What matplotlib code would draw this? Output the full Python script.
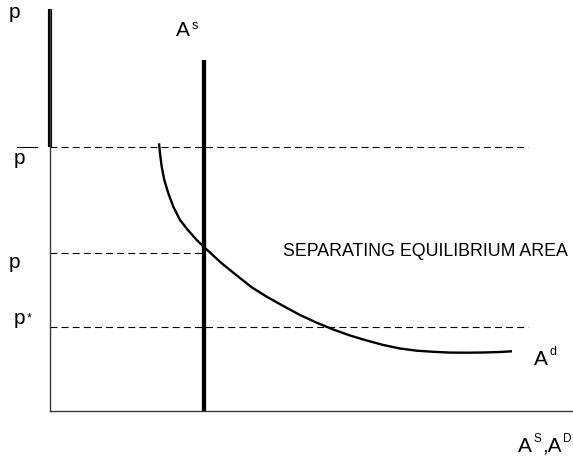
import matplotlib
matplotlib.use("Agg")
import matplotlib.pyplot as plt

plt.rcParams['font.family'] = ['Liberation Sans', 'DejaVu Sans']
plt.rcParams['lines.scale_dashes'] = False

# price levels
p_bar = 5.28
p_sep = 3.16
p_star = 1.68

# supply of A (vertical)
a_supply = 3.08
a_supply_top = 7.02
p_axis_top = 8.04
dash_end = 9.56

# demand curve A^d
ad_x = [2.18, 2.20, 2.234, 2.286, 2.366, 2.466, 2.60, 2.766, 2.934, 3.086,
        3.434, 3.766, 4.04, 4.334, 4.666, 5.00, 5.334, 5.666, 6.00, 6.334,
        6.666, 7.00, 7.334, 7.666, 8.00, 8.334, 8.666, 9.00, 9.24]
ad_y = [5.354, 5.154, 4.886, 4.62, 4.354, 4.086, 3.82, 3.61, 3.42, 3.274,
        2.954, 2.686, 2.47, 2.286, 2.10, 1.92, 1.766, 1.63, 1.51, 1.41,
        1.32, 1.25, 1.206, 1.184, 1.168, 1.166, 1.17, 1.18, 1.194]

fig = plt.figure(figsize=(5.73, 4.59), dpi=100)
ax = fig.add_axes([50 / 573, 48 / 459, 523 / 573, 411 / 459])
ax.set_xlim(0, 523 / 50)
ax.set_ylim(0, 411 / 50)
ax.set_xticks([])
ax.set_yticks([])
for s in ['top', 'right']:
    ax.spines[s].set_visible(False)
for s in ['left', 'bottom']:
    ax.spines[s].set_color('#3a3a3a')
    ax.spines[s].set_linewidth(1.0)
ax.spines['left'].set_bounds(0, p_axis_top)

dash = dict(color='black', lw=0.8, linestyle=(0, (5, 3)))
ax.plot([0, dash_end], [p_bar, p_bar], **dash)
ax.plot([0, a_supply], [p_sep, p_sep], **dash)
ax.plot([0, dash_end], [p_star, p_star], **dash)

# thick part of the price axis above p bar
ax.plot([0, 0], [p_bar, p_axis_top], color='black', lw=3, solid_capstyle='butt', clip_on=False)
# A^s
ax.plot([a_supply, a_supply], [0, a_supply_top], color='black', lw=3.1, solid_capstyle='butt')
# A^d
ax.plot(ad_x, ad_y, color='black', lw=1.7, solid_capstyle='butt', solid_joinstyle='round')

fs = 15
ax.text(-0.71, 7.86, 'p', fontsize=fs, ha='center', va='baseline', clip_on=False)
ax.text(-0.62, 4.94, 'p', fontsize=fs, ha='center', va='baseline', clip_on=False)
ax.plot([-0.66, -0.26], [p_bar, p_bar], color='black', lw=0.8, clip_on=False)
ax.text(-0.71, 2.86, 'p', fontsize=fs, ha='center', va='baseline', clip_on=False)
ax.text(-0.62, 1.74, 'p', fontsize=fs, ha='center', va='baseline', clip_on=False)
ax.text(-0.47, 1.80, '*', fontsize=9, ha='left', va='baseline', clip_on=False)

ax.text(2.66, 7.5, 'A', fontsize=fs, ha='center', va='baseline')
ax.text(2.84, 7.64, 's', fontsize=9, ha='left', va='baseline')

ax.text(9.81, 0.92, 'A', fontsize=fs, ha='center', va='baseline')
ax.text(10.0, 1.12, 'd', fontsize=9, ha='left', va='baseline')

ax.text(4.66, 3.09, 'SEPARATING EQUILIBRIUM AREA', fontsize=12.8, ha='left', va='baseline')

ax.text(9.36, -0.82, 'A', fontsize=fs, ha='left', va='baseline', clip_on=False)
ax.text(9.67, -0.62, 'S', fontsize=8.5, ha='left', va='baseline', clip_on=False)
ax.text(9.84, -0.82, ',A', fontsize=fs, ha='left', va='baseline', clip_on=False)
ax.text(10.26, -0.62, 'D', fontsize=8.5, ha='left', va='baseline', clip_on=False)

fig.savefig('out.png', dpi=100)
